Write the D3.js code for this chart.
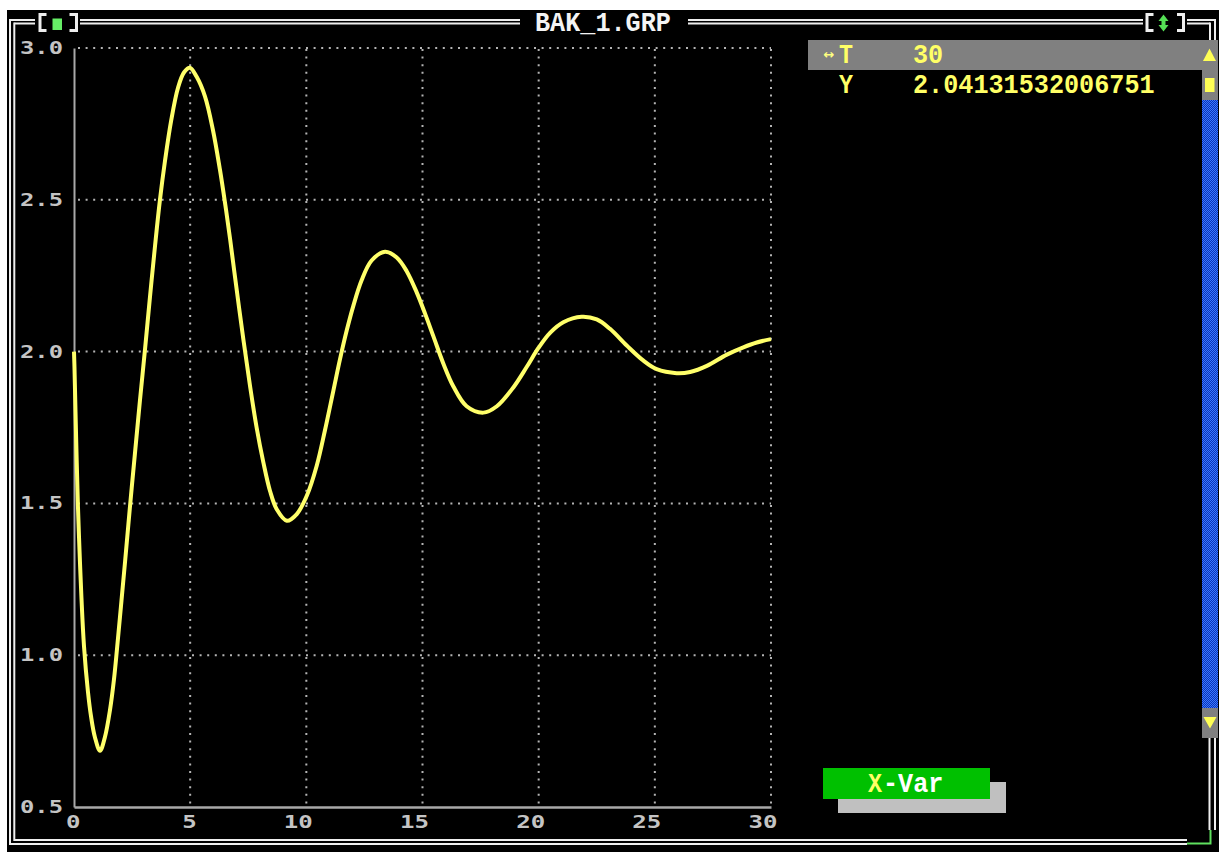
<!DOCTYPE html>
<html><head><meta charset="utf-8">
<script src="https://cdn.jsdelivr.net/npm/d3@7"></script>
<style>body{margin:0;background:#fff;} svg{display:block}</style>
</head><body>
<svg id="c" width="1223" height="852"></svg>
<script>
// ---- data ----
const tValues = [0, 0.02, 0.09, 0.17, 0.24, 0.32, 0.43, 0.60, 0.73, 0.90, 1.12, 1.33, 1.55, 1.72, 1.85, 2.02, 2.20, 2.41, 2.63, 2.84, 3.06, 3.27, 3.49, 3.70, 3.92, 4.18, 4.48, 4.74, 4.99, 5.28, 5.64, 5.98, 6.28, 6.50, 6.72, 7.00, 7.29, 7.58, 7.86, 8.15, 8.44, 8.73, 9.16, 9.59, 10.02, 10.45, 10.80, 11.16, 11.45, 11.74, 12.02, 12.38, 12.81, 13.39, 13.89, 14.32, 14.75, 15.11, 15.47, 15.90, 16.33, 16.90, 17.62, 18.20, 18.91, 19.49, 19.99, 20.49, 21.06, 21.85, 22.50, 23.07, 23.79, 24.51, 25.08, 25.94, 26.52, 27.24, 28.10, 28.81, 29.39, 30.0];
const yValues = [2.0, 1.95, 1.72, 1.49, 1.34, 1.19, 1.03, 0.88, 0.80, 0.73, 0.685, 0.73, 0.82, 0.92, 1.02, 1.16, 1.31, 1.49, 1.67, 1.84, 2.01, 2.18, 2.35, 2.50, 2.63, 2.76, 2.87, 2.92, 2.935, 2.905, 2.84, 2.73, 2.60, 2.49, 2.37, 2.205, 2.04, 1.885, 1.75, 1.635, 1.54, 1.48, 1.443, 1.465, 1.525, 1.625, 1.74, 1.87, 1.975, 2.07, 2.15, 2.235, 2.30, 2.329, 2.31, 2.265, 2.195, 2.125, 2.05, 1.96, 1.885, 1.82, 1.799, 1.82, 1.882, 1.95, 2.012, 2.062, 2.097, 2.115, 2.106, 2.075, 2.02, 1.97, 1.942, 1.929, 1.933, 1.953, 1.99, 2.014, 2.03, 2.041];
const xTicks = [0, 5, 10, 15, 20, 25, 30];
const xTickLabels = ["0", "5", "10", "15", "20", "25", "30"];
const yTicks = [0.5, 1.0, 1.5, 2.0, 2.5, 3.0];
const yTickLabels = ["0.5", "1.0", "1.5", "2.0", "2.5", "3.0"];
const fileTitle = "BAK_1.GRP";
const readoutNames = ["T", "Y"];
const readoutValues = ["30", "2.04131532006751"];
const buttonKey = "X";
const buttonRest = "-Var";

// ---- drawing ----
const svg = d3.select("#c");
const DOS = "'Liberation Mono', 'DejaVu Sans Mono', monospace";
const SMALL = "'DejaVu Sans Mono', 'Liberation Mono', monospace";
const CW = 15.1; // character cell width

const defs = svg.append("defs");
const pat = defs.append("pattern").attr("id", "chk").attr("width", 2).attr("height", 2)
  .attr("patternUnits", "userSpaceOnUse");
pat.append("rect").attr("width", 2).attr("height", 2).attr("fill", "#0b34b8");
pat.append("rect").attr("x", 0).attr("y", 0).attr("width", 1).attr("height", 1).attr("fill", "#3a78ff");
pat.append("rect").attr("x", 1).attr("y", 1).attr("width", 1).attr("height", 1).attr("fill", "#3a78ff");

// window background
svg.append("rect").attr("x", 7).attr("y", 10).attr("width", 1212).attr("height", 842).attr("fill", "#000");

const x = d3.scaleLinear().domain([0, 30]).range([74, 771]);
const y = d3.scaleLinear().domain([0.5, 3.0]).range([807, 48]);

// grid
const grid = svg.append("g");
grid.selectAll("line.v").data(xTicks.filter(d => d > 0)).join("line")
  .attr("class", "v")
  .attr("x1", d => x(d)).attr("x2", d => x(d))
  .attr("y1", y(3.0) + 1).attr("y2", y(0.5) - 3)
  .attr("stroke", "#b4b4b4").attr("stroke-width", 2).attr("stroke-dasharray", "2 5.6");
grid.selectAll("line.h").data(yTicks.filter(d => d > 0.5)).join("line")
  .attr("class", "h")
  .attr("x1", x(0) + 4).attr("x2", x(30))
  .attr("y1", d => y(d)).attr("y2", d => y(d))
  .attr("stroke", "#b4b4b4").attr("stroke-width", 2).attr("stroke-dasharray", "2 5.6");

// axes
const xAxis = svg.append("g").attr("transform", `translate(0,${y(0.5)})`)
  .call(d3.axisBottom(x).tickValues(xTicks).tickSize(0).tickSizeOuter(0)
    .tickFormat((d, i) => xTickLabels[i]));
xAxis.select(".domain").attr("stroke", "#a8a8a8").attr("stroke-width", 2.5);
xAxis.selectAll("text")
  .attr("y", 21).attr("dy", null).attr("x", 6)
  .attr("text-anchor", "end")
  .attr("fill", "#c4c4c4")
  .attr("font-family", SMALL).attr("font-weight", "bold").attr("font-size", 17)
  .attr("textLength", d => xTickLabels[xTicks.indexOf(d)].length * 14.5)
  .attr("lengthAdjust", "spacingAndGlyphs");

const yAxis = svg.append("g").attr("transform", `translate(${x(0)},0)`)
  .call(d3.axisLeft(y).tickValues(yTicks).tickSize(0).tickSizeOuter(0)
    .tickFormat((d, i) => yTickLabels[i]));
yAxis.select(".domain").attr("stroke", "#a8a8a8").attr("stroke-width", 2);
yAxis.selectAll("text")
  .attr("x", -11).attr("dy", null).attr("y", 5.5)
  .attr("text-anchor", "end")
  .attr("fill", "#c4c4c4")
  .attr("font-family", SMALL).attr("font-weight", "bold").attr("font-size", 17)
  .attr("textLength", 43)
  .attr("lengthAdjust", "spacingAndGlyphs");

// curve
const pts = tValues.map((t, i) => [t, yValues[i]]);
svg.append("path").datum(pts)
  .attr("d", d3.line().x(d => x(d[0])).y(d => y(d[1])).curve(d3.curveCatmullRom.alpha(0.5)))
  .attr("fill", "none").attr("stroke", "#ffff6a").attr("stroke-width", 4)
  .attr("stroke-linejoin", "round").attr("stroke-linecap", "butt");

// ---- window frame ----
const frame = svg.append("g").attr("stroke", "#eeeeee").attr("stroke-width", 2).attr("fill", "none");
function seg(x1, y1, x2, y2, g = frame) { g.append("line").attr("x1", x1).attr("y1", y1).attr("x2", x2).attr("y2", y2); }
// left
seg(10, 19, 10, 845);
seg(14.3, 22.5, 14.3, 841);
// top outer / inner pieces
[[10, 35], [80, 520], [688, 1143], [1187, 1215]].forEach(([a, b]) => seg(a, 20, b, 20));
[[14.3, 35], [80, 520], [688, 1143], [1187, 1210]].forEach(([a, b]) => seg(a, 23.5, b, 23.5));
// right
seg(1215, 19, 1215, 40); seg(1210, 22.5, 1210, 40);
seg(1215, 738, 1215, 830); seg(1209.5, 738, 1209.5, 830);
// bottom
seg(14.3, 840, 1187, 840);
seg(9, 844, 1187, 844);
// resize grip
svg.append("polyline").attr("points", "1210.5,830 1210.5,843.5 1187,843.5")
  .attr("fill", "none").attr("stroke", "#5fe05f").attr("stroke-width", 2);

// title bar widgets
const wb = svg.append("g").attr("stroke", "#eeeeee").attr("stroke-width", 3).attr("fill", "none");
wb.append("polyline").attr("points", "46.5,14.5 40,14.5 40,30.5 46.5,30.5");
wb.append("polyline").attr("points", "69.5,14.5 76.5,14.5 76.5,30.5 69.5,30.5");
wb.append("polyline").attr("points", "1153.5,14.5 1147,14.5 1147,30.5 1153.5,30.5");
wb.append("polyline").attr("points", "1177,14.5 1183.5,14.5 1183.5,30.5 1177,30.5");
svg.append("rect").attr("x", 52.5).attr("y", 18.5).attr("width", 9.5).attr("height", 11.5).attr("fill", "#66ee66");
const arr = svg.append("g").attr("fill", "#55e055");
arr.append("rect").attr("x", 1161.5).attr("y", 18).attr("width", 4).attr("height", 10);
arr.append("polygon").attr("points", "1158.5,21 1163.5,14.5 1168.5,21");
arr.append("polygon").attr("points", "1158.5,25 1163.5,31.5 1168.5,25");

svg.append("text").attr("x", 535).attr("y", 31).text(fileTitle)
  .attr("fill", "#f4f4f4").attr("font-family", DOS).attr("font-weight", "bold").attr("font-size", 27)
  .attr("textLength", fileTitle.length * CW).attr("lengthAdjust", "spacingAndGlyphs");

// ---- right panel ----
svg.append("rect").attr("x", 808).attr("y", 40).attr("width", 410).attr("height", 30).attr("fill", "#808080");
svg.append("rect").attr("x", 1202).attr("y", 70).attr("width", 16).attr("height", 30).attr("fill", "#808080");
svg.append("rect").attr("x", 1202).attr("y", 100).attr("width", 16).attr("height", 608).attr("fill", "url(#chk)");
svg.append("rect").attr("x", 1202).attr("y", 708).attr("width", 16).attr("height", 30).attr("fill", "#808080");
svg.append("polygon").attr("points", "1203,61 1216,61 1209.5,48.5").attr("fill", "#ffff55");
svg.append("rect").attr("x", 1205).attr("y", 78).attr("width", 9.5).attr("height", 14).attr("fill", "#ffff55");
svg.append("polygon").attr("points", "1203.5,717 1216.5,717 1210,728.5").attr("fill", "#ffff55");

// readout rows
const rowBase = [63, 93];
svg.append("text").attr("x", 829).attr("y", 58.5).attr("text-anchor", "middle").text("↔")
  .attr("fill", "#ffff80").attr("font-family", "'DejaVu Sans', sans-serif").attr("font-weight", "bold").attr("font-size", 13);
readoutNames.forEach((n, i) => {
  svg.append("text").attr("x", 839).attr("y", rowBase[i]).text(n)
    .attr("fill", "#ffff66").attr("font-family", DOS).attr("font-weight", "bold").attr("font-size", 27)
    .attr("textLength", 14).attr("lengthAdjust", "spacingAndGlyphs");
  svg.append("text").attr("x", 913).attr("y", rowBase[i]).text(readoutValues[i])
    .attr("fill", "#ffff66").attr("font-family", DOS).attr("font-weight", "bold").attr("font-size", 27)
    .attr("textLength", readoutValues[i].length * CW).attr("lengthAdjust", "spacingAndGlyphs");
});

// X-Var button
svg.append("rect").attr("x", 838).attr("y", 782).attr("width", 168).attr("height", 31).attr("fill", "#c0c0c0");
svg.append("rect").attr("x", 823).attr("y", 768).attr("width", 167).attr("height", 31).attr("fill", "#00c000");
svg.append("text").attr("x", 868).attr("y", 792).text(buttonKey)
  .attr("fill", "#ffff66").attr("font-family", DOS).attr("font-weight", "bold").attr("font-size", 27)
  .attr("textLength", 14).attr("lengthAdjust", "spacingAndGlyphs");
svg.append("text").attr("x", 883).attr("y", 792).text(buttonRest)
  .attr("fill", "#ffffff").attr("font-family", DOS).attr("font-weight", "bold").attr("font-size", 27)
  .attr("textLength", buttonRest.length * CW).attr("lengthAdjust", "spacingAndGlyphs");
</script>
</body></html>
